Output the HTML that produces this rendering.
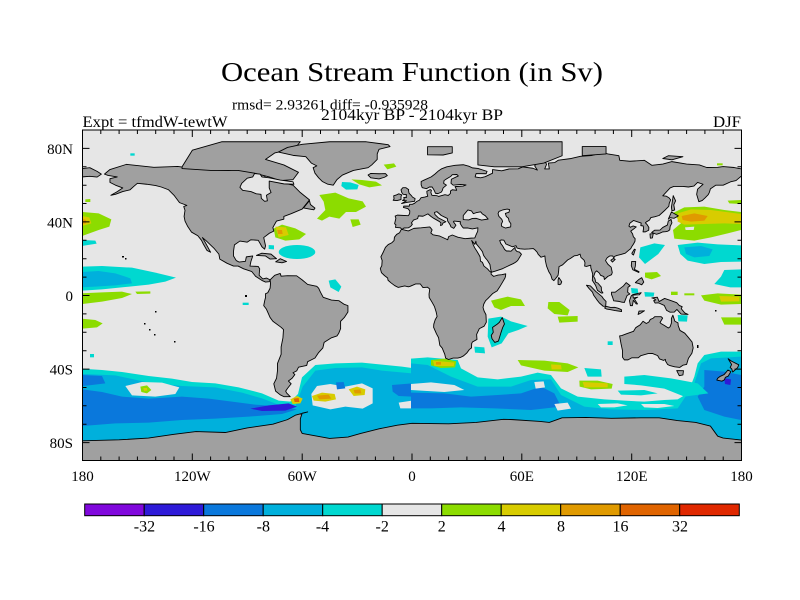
<!DOCTYPE html>
<html><head><meta charset="utf-8"><style>
html,body{margin:0;padding:0;background:#fff;}
svg{display:block;}
.l polygon{vector-effect:non-scaling-stroke;}
text{font-family:"Liberation Serif",serif;fill:#000;}
</style></head><body>
<svg width="800" height="600" viewBox="0 0 800 600" xmlns="http://www.w3.org/2000/svg">
<rect width="800" height="600" fill="#fff"/>
<defs><clipPath id="mc"><rect x="82.5" y="130" width="659" height="331"/></clipPath></defs>
<g clip-path="url(#mc)">
<rect x="82" y="129" width="661" height="333" fill="#e6e6e6"/>
<!-- LEFT HALF PATCHES -->
<g transform="translate(82 130) scale(0.33333)">
<polygon fill="#00d8d0" points="0,716 60,720 120,726 200,738 270,746 330,756 400,760 470,772 540,790 590,812 625,815 648,792 660,742 700,705 760,700 840,698 900,704 960,710 990,714 990,993 0,993"/>
<polygon fill="#00b0dc" points="0,732 100,736 200,758 300,768 400,772 480,788 540,805 600,828 640,830 662,770 700,722 760,714 840,712 900,722 990,730 990,993 0,993"/>
<polygon fill="#0a78dc" points="0,735 60,738 70,760 30,765 0,768"/>
<polygon fill="#e6e6e6" points="130,768 180,756 240,758 292,772 280,792 220,800 150,796"/>
<polygon fill="#8cdc00" points="175,770 195,766 208,780 195,790 178,786"/>
<polygon fill="#d8cc00" points="184,774 195,774 196,782 186,783"/>
<polygon fill="#0a78dc" points="0,778 60,786 120,800 200,806 300,800 380,806 450,815 520,824 600,830 645,838 600,852 500,860 400,866 300,870 200,878 100,880 0,888"/>
<polygon fill="#2e1ad8" points="505,836 560,826 620,820 645,830 610,842 540,843"/>
<polygon fill="#e6e6e6" points="688,792 705,768 745,762 790,770 840,760 872,775 872,820 842,836 790,830 745,838 692,826"/>
<polygon fill="#d8cc00" points="625,808 645,798 662,806 655,820 632,822"/>
<polygon fill="#e06400" points="635,806 650,804 652,816 638,816"/>
<polygon fill="#d8cc00" points="690,798 720,788 758,792 762,808 730,815 695,812"/>
<polygon fill="#e09a00" points="705,797 740,794 748,806 712,808"/>
<polygon fill="#d8cc00" points="800,778 825,770 850,778 848,795 815,798"/>
<polygon fill="#e09a00" points="815,780 835,778 838,790 818,790"/>
<polygon fill="#0a78dc" points="762,757 785,756 790,775 765,778"/>
<polygon fill="#0a78dc" points="930,765 990,760 990,800 950,798 932,785"/>
<polygon fill="#e6e6e6" points="950,818 990,812 990,835 955,835"/>
<polygon fill="#00d8d0" points="0,410 60,408 150,413 220,428 282,443 250,455 200,464 130,471 60,478 0,482"/>
<polygon fill="#00b0dc" points="0,426 50,423 100,430 145,445 150,460 100,466 40,470 0,472"/>
<polygon fill="#8cdc00" points="0,490 60,487 120,485 150,492 120,504 60,515 0,522"/>
<polygon fill="#8cdc00" points="160,485 205,484 205,491 165,492"/>
<polygon fill="#8cdc00" points="0,566 40,570 62,580 45,592 0,596"/>
<polygon fill="#00d8d0" points="0,330 40,332 44,341 0,348"/>
<polygon fill="#00d8d0" points="24,672 36,672 36,682 24,682"/>
<polygon fill="#00d8d0" points="482,518 500,518 500,525 482,525"/>
<polygon fill="#8cdc00" points="0,246 50,250 88,268 82,290 50,300 0,318"/>
<polygon fill="#d8cc00" points="0,258 22,262 28,280 0,288"/>
<polygon fill="#e09a00" points="0,266 12,270 12,280 0,282"/>
<polygon fill="#8cdc00" points="10,208 25,207 25,216 10,216"/>
<polygon fill="#8cdc00" points="712,195 760,188 800,205 842,214 852,230 822,246 792,246 772,266 742,260 720,272 705,266 730,240 725,215"/>
<polygon fill="#8cdc00" points="805,268 830,268 836,284 812,291"/>
<polygon fill="#8cdc00" points="575,296 600,284 640,295 672,312 652,328 610,332 580,322"/>
<polygon fill="#d8cc00" points="580,290 612,292 620,315 590,322"/>
<polygon fill="#e09a00" points="586,300 600,300 602,312 588,312"/>
<ellipse fill="#00d8d0" cx="645" cy="366" rx="55" ry="21"/>
<polygon fill="#00d8d0" points="560,345 576,346 576,358 560,357"/>
<polygon fill="#00d8d0" points="780,156 805,157 830,165 826,178 792,179 778,168"/>
<polygon fill="#8cdc00" points="808,148 840,150 882,155 900,166 862,172 832,163"/>
<polygon fill="#8cdc00" points="905,104 936,100 943,110 916,118"/>
<polygon fill="#00d8d0" points="740,452 760,448 778,470 770,486 745,472"/>
<polygon fill="#00d8d0" points="145,70 158,70 158,77 145,77"/>
</g>
<!-- RIGHT HALF PATCHES -->
<g transform="translate(411 130) scale(0.33333)">
<polygon fill="#00d8d0" points="0,686 50,682 140,690 150,715 200,742 260,748 330,740 380,728 420,735 450,775 500,800 580,808 640,812 700,815 760,810 800,808 830,790 850,740 860,700 880,675 930,665 990,665 990,993 0,993"/>
<polygon fill="#00b0dc" points="0,700 50,705 120,740 200,770 300,770 360,750 420,748 450,795 520,830 600,838 700,840 800,835 850,760 870,700 900,685 990,680 990,993 0,993"/>
<polygon fill="#0a78dc" points="0,788 100,790 180,800 260,795 330,790 390,770 430,790 450,830 360,840 250,835 150,832 60,835 0,835"/>
<polygon fill="#0a78dc" points="880,720 940,725 990,735 990,870 940,860 880,840 860,800 880,770"/>
<polygon fill="#e6e6e6" points="0,762 60,757 130,765 160,780 100,786 30,782 0,780"/>
<polygon fill="#e6e6e6" points="370,756 398,754 402,772 374,776"/>
<polygon fill="#e6e6e6" points="430,822 470,818 480,836 440,842"/>
<polygon fill="#e6e6e6" points="560,822 620,820 650,826 610,832 570,832"/>
<polygon fill="#e6e6e6" points="690,822 760,822 790,828 740,834 700,832"/>
<polygon fill="#2e1ad8" points="940,745 960,748 958,765 942,762"/>
<polygon fill="#8cdc00" points="780,252 820,232 880,230 940,240 990,246 990,300 950,310 900,322 850,332 790,326 786,300 812,278 796,262"/>
<polygon fill="#d8cc00" points="800,250 840,238 900,240 960,248 990,252 990,282 940,280 880,282 820,284 800,275"/>
<polygon fill="#e09a00" points="812,258 850,250 890,258 880,272 840,275 815,270"/>
<polygon fill="#e6e6e6" points="822,292 850,290 848,300 824,300"/>
<polygon fill="#8cdc00" points="950,212 990,210 990,222 955,220"/>
<polygon fill="#8cdc00" points="918,100 935,100 935,106 918,106"/>
<polygon fill="#00d8d0" points="800,345 860,338 920,343 990,346 990,395 930,396 880,402 830,392 808,372"/>
<polygon fill="#00b0dc" points="820,352 870,348 905,358 895,378 850,382 825,372"/>
<polygon fill="#00d8d0" points="688,352 730,340 762,345 742,372 702,402 684,382"/>
<polygon fill="#00d8d0" points="940,420 990,418 990,472 958,472 910,462 930,440"/>
<polygon fill="#8cdc00" points="702,428 738,426 750,438 722,448 702,442"/>
<polygon fill="#8cdc00" points="870,496 920,490 990,494 990,522 930,524 880,512"/>
<polygon fill="#d8cc00" points="925,498 985,500 985,514 930,515"/>
<polygon fill="#8cdc00" points="930,562 990,562 990,584 940,584"/>
<polygon fill="#00d8d0" points="660,474 680,476 682,490 662,490"/>
<polygon fill="#00d8d0" points="700,486 730,488 728,500 702,500"/>
<polygon fill="#8cdc00" points="780,485 800,485 800,495 780,495"/>
<polygon fill="#8cdc00" points="820,490 850,490 850,496 820,496"/>
<polygon fill="#00d8d0" points="800,555 830,556 828,575 802,574"/>
<polygon fill="#8cdc00" points="240,512 290,500 330,508 342,528 300,528 270,540 250,532"/>
<polygon fill="#8cdc00" points="412,516 445,516 476,540 470,556 430,552 410,535"/>
<polygon fill="#8cdc00" points="440,560 500,558 500,575 445,578"/>
<polygon fill="#00d8d0" points="232,566 270,560 300,574 350,588 322,600 292,610 272,640 242,652 230,620"/>
<polygon fill="#00d8d0" points="190,650 220,652 222,670 192,668"/>
<polygon fill="#00d8d0" points="590,634 605,634 605,645 590,645"/>
<polygon fill="#8cdc00" points="60,690 100,686 136,694 132,712 90,714 60,706"/>
<polygon fill="#d8cc00" points="66,692 130,698 128,708 70,708"/>
<polygon fill="#e09a00" points="75,696 90,696 90,704 75,704"/>
<polygon fill="#8cdc00" points="320,690 400,692 470,700 502,712 470,726 400,722 330,706"/>
<polygon fill="#d8cc00" points="420,703 450,705 452,718 422,718"/>
<polygon fill="#8cdc00" points="505,752 560,752 605,762 602,776 540,778 506,770"/>
<polygon fill="#d8cc00" points="515,756 590,760 590,772 520,772"/>
<polygon fill="#00d8d0" points="520,714 570,718 572,740 530,740"/>
<polygon fill="#00d8d0" points="640,740 700,735 780,745 860,760 892,790 820,800 760,776 690,766 640,762"/>
<polygon fill="#00d8d0" points="620,782 700,780 740,790 690,796 630,794"/>
</g>
<!-- LAND (lon/lat coordinates) -->
<g class="l" transform="translate(412 295.5) scale(1.8306 -1.839)" fill="#a0a0a0" stroke="#000" stroke-width="0.9" stroke-linejoin="round">
<polygon points="-168,66 -165,68.5 -156,71.3 -141,69.7 -128,70.2 -115,68.5 -100,68 -90,69.5 -82,68 -80,64 -75,62.5 -65,60 -61,56 -56,52 -60,47 -66,44.5 -70,43 -70,41.5 -74,40.5 -76,37 -75.5,35 -78,33.8 -81,31.5 -80,27 -80.5,25.2 -82,26.5 -82.8,28 -84,30 -88,30.3 -90,29 -94,29.6 -97,27.5 -97.5,24 -97.5,21.5 -96,19 -94.5,18.2 -91,18.6 -90.5,21 -87,21.5 -88,18.5 -88.5,16 -84,15.8 -83.2,14.5 -83.5,11 -81.5,9 -79.5,9.5 -77.5,8.5 -78,7.5 -80,7.3 -82,8.2 -85.5,10.5 -87.5,13 -92,14.5 -95,16 -97.5,16 -101,17.5 -105,19.8 -105.5,22.5 -108,25.5 -112.5,29.8 -114.5,31.5 -113,29 -110,23.5 -112,24.5 -114,28 -115,30 -117,32.5 -120.5,34.5 -122.5,37.5 -124,40.5 -124.5,43 -124,46.3 -124.7,48.4 -123,49 -127,50.5 -130,54.5 -133,57.5 -137,59 -140,59.8 -145,60.5 -150,61 -152,59.3 -154,57.5 -158,56.5 -162,55 -164.5,54.5 -161,56.5 -158,58.5 -162,60 -165,61.5 -165,63.5 -161,64.5 -166,65.3"/>
<polygon points="-125.6,70 -120,79 -104,83.6 -61,83.6 -64,80 -75,77.5 -80,74 -70,71 -62,67 -65,63 -72,62.5 -78,64.5 -86,66.5 -95,68 -110,68 -125.6,69"/>
<polygon fill="#e6e6e6" points="-94,58.8 -93,61 -90,63.8 -87,64.5 -86,66.3 -83,66 -82,64.5 -78,64 -72,62.8 -65,61.8 -64.5,60.5 -70,60.7 -78,62.2 -78,58.5 -77,56 -79.5,54.5 -79,51.5 -80.5,51.2 -82.3,52.8 -82.5,55 -85,55.3 -88,56.5 -92.5,57.2"/>
<polygon points="-73,78 -68,80.5 -60,82.2 -45,83.6 -25,83.6 -13,82 -12,81 -18,79.5 -19,77 -19,74 -22,71 -24,69.5 -32,68 -38,65.5 -41,63 -43,60 -46,60.5 -49,62 -51,64 -53,66.5 -54,69.5 -52,70.5 -55,72 -58,75.5 -65,76.2"/>
<polygon points="-59.3,47.6 -56,51.6 -55.5,49.5 -53,47.5 -53.6,46.6 -56,47"/>
<polygon points="-85,21.8 -82,23 -77,22.5 -74,20 -77.5,19.8 -80,21.5"/>
<polygon points="-74.5,18.3 -72,20 -68.5,18.5 -71,17.8"/>
<polygon points="-180,64.5 -180,69 -176,69.5 -172,67.5 -169.7,66 -172,64.4 -176,64.8"/>
<polygon points="-77.5,8.5 -75,11 -72,12 -71.5,10.5 -68,10.8 -63,10.7 -60,8.5 -57,6 -52,5 -51,4 -50,1.8 -48.5,-1 -44,-2.5 -40,-2.8 -37,-4.8 -35,-5.5 -35,-9 -37,-12 -39,-14 -39,-18 -40,-20.5 -41,-22 -44,-23 -48,-25.5 -48.7,-28.5 -51,-31 -53,-34 -55,-35 -57,-36 -57.5,-38 -62,-39 -63,-41 -65,-42 -64,-43 -65.5,-45 -67.5,-46.5 -66,-48 -68,-50.5 -69,-52 -68.5,-53 -66.5,-55 -70,-55 -72,-54 -74.5,-52 -75.5,-48 -74,-45 -73.5,-41 -73.5,-37 -71.5,-32 -71.5,-28 -70.5,-23 -70.2,-18.5 -71.5,-17.3 -76,-14 -77.5,-12 -79.5,-7.5 -81,-5.5 -80.5,-3 -80,-1 -80,1 -78.8,1.5 -77.5,4 -77.3,6.5"/>
<polygon points="-5.6,36 -6.3,36.8 -9,37 -8.8,38.5 -9.5,39 -8.8,42 -9.2,43.2 -8,43.7 -2,43.4 -1.3,44.5 -1.2,46 -2.2,47.2 -4.7,47.9 -4.5,48.6 -1.5,48.6 -1.3,49.6 0.2,49.6 1.5,50.2 2.5,51.1 4,51.8 5,53.2 7,53.5 8.6,54 8.2,55.5 8.1,56.7 10,57.6 10.6,57.2 10.3,56 10.9,54.5 13.5,54.3 14.5,53.9 18,54.8 19.8,54.4 21,55.5 21,56.8 22,57.5 24.4,57.2 24,58.3 23.5,59.2 28,59.5 29.5,60.1 26.5,60.4 22.5,60 21.3,61 21.5,63.2 25.3,65 24.5,65.8 22,65.7 21.2,64.8 19,63.5 17.5,62.5 17.3,61 18.8,60 17,58.5 16.5,57 16,56.2 14.2,55.4 12.8,55.6 12.4,56.6 11.9,57.6 11,59 9.5,59 8,58.1 5.6,58.6 5,60.2 5,62 6.5,62.7 10.5,64.5 12.5,66 14.5,67.8 16,68.8 19,70 23.5,70.8 28,71.1 31,70.3 33,69.4 36,69.1 41,67.5 40.5,66.2 35,66.3 34.5,64.5 37.5,64 40,64.6 44,66.5 44,68.5 46,68.2 49,67.8 53,68.8 58,68.9 60.5,69.9 66,69.2 68.5,68.2 67,70.5 68.5,72.5 72.8,72.7 73.5,71.3 72.5,68.8 75,68.8 74.5,72 78,72.3 80,73.6 87,74.5 92,75.7 98,76.1 104,77.7 107,77 113,76 113.5,73.5 119,73 127,73.5 131,70.8 137,71.5 142,72.8 150,71.5 157,71 161,69.6 167,69.7 170,70.1 176,69.6 180,68.8 180,65 177,62.5 174,61.8 170,60 166,60 163,58 162.5,56.2 161.8,54.8 160,53 158.5,51.6 156.7,51 155.5,55 156,57.8 159,60.5 156,61.5 154,59.5 151,59 148,59.3 143,59.3 141,58.5 137,54.2 139,54 140.5,53 141.3,52 140.5,50 140.3,48.5 138.3,46.5 135,43.5 132.5,42.8 130.5,42.4 129.7,41 128,40 127.5,39.5 128.4,38.6 129.4,37 129.3,35.5 127.5,34.6 126.2,34.6 126.5,36.5 126.3,37.8 125,38 125.2,39.4 124,39.8 121,40.8 119,39.3 118.5,37.7 119.3,37.1 120.7,37.8 122.5,37.3 121,36.1 119.5,35 120.5,33.5 120.9,32 121.9,30.9 121.8,29.5 121,28 120,26.5 119.5,25.5 118.5,24.7 116.5,23 114.2,22.3 112,21.8 110.5,21.2 110.3,20.3 109.6,21.5 108,21.5 106.6,20.5 105.7,19 107,17 108.8,15.4 109.4,12.5 109,11.3 107,10.4 105.1,8.7 104.8,10.3 103,11 102.3,12.2 100.9,13.4 100,12.6 99.2,10.3 99.9,9.2 100.4,7.2 101.5,6.8 103.4,4.6 103.5,2.6 104.3,1.4 103.5,1.3 101.3,2.8 100.3,5.5 98.5,8.2 98.6,10 98.7,11.7 97.7,15 97.6,16.5 95.3,15.8 94.3,16 94.5,17.8 94,19.2 92.3,20.7 91.8,22.5 90.3,21.8 88.7,21.6 86.5,20.1 85,19.3 82.3,16.7 80.3,15.7 80.1,13.2 79.8,11 79.3,10.3 78.2,8.9 77.5,8.1 76.5,8.9 75.8,11.2 74.7,13 73.5,16 72.8,19.2 72.6,21.5 70.5,20.8 69,22.3 68.3,23.6 67.2,24.8 66.3,25.5 64,25.3 61.5,25.2 59,25.4 57.4,25.8 56.8,27.1 54.8,26.5 52.5,27.5 51.3,28 50.2,30.1 48.8,30.2 47.9,29.9 48.5,28.3 49.5,27 50.6,25 51.6,24.2 52.6,24.2 54.1,24.1 55.6,25.5 56.3,26.2 56.4,24.9 57.4,23.9 58.7,23.6 59.8,22.4 58.8,20.8 57.7,19 56.5,18 55.2,17.3 52.2,15.9 49.5,14.6 45.6,13.3 43.5,12.7 43.2,13.3 42.8,15.3 42.6,16.8 41.2,19.1 40,20.5 39.1,21.8 38.5,23.8 37.4,25.3 35.1,28.1 34.9,29.5 34.3,27.8 32.6,29.9 33.5,27.5 34.2,26 35.5,24 36.5,22.3 37.2,21 37.4,18.7 38.5,18 39.3,16 41.2,14.5 42.3,13.3 43.3,12.5 43.2,11.6 44.6,10.4 47,11.1 49,11.3 51.2,11.8 51.1,10.5 50.8,9.5 49.5,7.3 48,4.8 46.5,2.5 44,1 41.5,-1.6 40.2,-2.8 39.2,-4.7 38.8,-6.5 39.4,-8.5 40.4,-10.4 40.6,-14.5 39.4,-16.7 36.8,-18 35.3,-21.2 35.5,-23.9 33,-25.3 32.6,-26.1 32.5,-28.5 31.3,-29.4 30,-31.2 28.2,-32.8 26.4,-33.7 25,-34 22.5,-34 20,-34.8 18.4,-34.1 17.9,-32 16.5,-28.6 15.2,-27.1 14.5,-22.9 13.4,-20.9 11.8,-17.3 11.9,-15.6 12.7,-13.1 13.7,-11.4 13.2,-9 12.3,-6.1 11.1,-3.9 9.4,-1.1 9.3,0.7 9.7,3.5 8.5,4.5 7,4.4 6,4.3 4.5,6.3 2,6.3 -1,5 -2,4.7 -4,5.2 -7.6,4.4 -9.5,5.4 -11.5,6.9 -13.1,8.3 -13.3,9.5 -15,10.8 -16.7,12.4 -17.3,14.7 -16.5,16.2 -16.3,19 -17,21 -15.5,24 -14.5,26.2 -13,27.7 -11,28.7 -9.8,29.9 -9.6,31.7 -8.4,33.2 -6.8,34.1 -6.1,35.5"/>
<polygon fill="#e6e6e6" points="-5.5,35.9 -2,35.1 1,36.5 5,36.8 9.7,37.3 10.3,36.6 11,35.7 10.3,34 11.5,33 15.2,32.3 19.5,30.3 20,32 22,32.9 25,31.7 29,30.9 32.3,31.2 34.3,31.3 35,33 35.9,35 36,36.8 33,36.2 30.6,36.7 28,36.7 27.2,37.7 26.3,39.2 26.5,40.1 23,40.5 22.6,40.1 24,38.2 22.8,36.5 21.3,37.3 20.8,38.5 19.5,40.5 19.3,41.9 16,43.5 13.6,45.6 12.3,45.2 12.5,44.1 14.3,42.3 16,41.4 18.5,40.1 16.9,39.4 16.5,38.4 15.6,38 15.8,39.5 15,40.2 12,41.9 10.5,42.9 8.7,44.4 6,43.1 3.5,43.3 3.2,42.3 3.1,41.8 0.8,41 -0.3,39.5 0.2,38.7 -0.7,37.6 -2,36.8 -4.4,36.7"/>
<polygon fill="#e6e6e6" points="28,41.3 28,43.5 29.5,45.3 30.5,46.5 32.5,46 33.5,44.5 35,45 37.5,45.5 38.5,44.3 40,43.4 41.6,41.6 38,41 35,42 33,41.9 31,41.1 29,41.2"/>
<polygon fill="#e6e6e6" points="47,44.5 47.5,45.7 49.5,46.5 52,47 53.3,46.7 53,45.3 51,44.6 51.5,43 52.7,42 53,40.5 54,39 53.9,37.3 51,36.7 49,37.6 48.8,38.8 49.5,40.3 49,41.5 47.5,43"/>
<polygon points="36,71 36,83.6 82,83.6 82,76 72,72 60,70 45,70"/>
<polygon points="8.5,76.5 8.5,80.9 22,80.9 22,77.5 17,76.4"/>
<polygon points="93,76 93,81 106,81 106,77"/>
<polygon points="137,74.5 140,76 148,75.5 142,73.8"/>
<polygon points="-22.5,64 -24,65.5 -22.5,66.4 -18,66.2 -14.5,66.3 -13.5,65.2 -15,64.3 -18,63.4 -21,63.8"/>
<polygon points="-5.7,50 -3,50.6 1.4,51.2 1.7,52.7 0.3,53.5 -0.5,54.5 -1.6,55.6 -2,57.6 -1.8,57.6 -3.3,58.6 -5,58.6 -6,57.5 -5.6,56 -4.8,55 -3,54.8 -3.2,54 -3,53.3 -4.5,53.3 -4.2,52.3 -5.2,51.7 -3,51.5"/>
<polygon points="-6,52.2 -6,53.9 -5.6,54.7 -7.2,55.3 -8.5,54.7 -10,54.2 -9.8,52.5 -10.3,51.8 -8.2,51.6"/>
<polygon points="130.9,34.3 132.5,35.5 135.5,35.6 137,37 139.5,38.3 140,40.5 141.5,41.4 142,39.5 141,37.5 140.8,35.7 139.8,35 138.5,34.7 137,34.6 135.2,33.8 133.5,33.3 132,33.9"/>
<polygon points="130,33.5 131.8,33.6 131.3,31.3 130.2,31.2"/>
<polygon points="140,41.5 141.7,45.4 145.5,43.3 143.2,42 141,42.3"/>
<polygon points="142,46 143.5,46.5 143,49.3 144,51.5 142.7,54.3 142.2,51 141.7,48"/>
<polygon points="120.1,23 121.5,25.2 122,25 121,22 120.3,22.5"/>
<polygon points="108.6,19.2 110,20.1 111,19.6 109.5,18.2"/>
<polygon points="79.8,6 79.8,8.5 80.2,9.8 81.8,7.5 81.3,6.2 80.5,5.9"/>
<polygon points="120,18.5 122.2,18.5 122,16 121.5,14.2 124,13 123.9,12.5 120.6,14 119.8,16.2"/>
<polygon points="122,7 123.8,8.6 125.5,9.7 126.6,7.3 125.5,5.8 124,6.5"/>
<polygon points="109,1.8 111,1.8 113,3.3 115.5,5.2 117,7 119.2,5.3 118,4.5 117.8,1.8 119,0.8 117.5,0 116.5,-2.5 116,-3.8 114.5,-3.6 113,-3.2 110.2,-2.9 109.6,-1 109,0.5"/>
<polygon points="95.3,5.6 97.5,5.2 100.4,2.2 103.7,-0.5 104.6,-1.8 106,-3.2 105.8,-5.8 104.5,-5.9 102.3,-4 100.9,-2.2 99.2,0.2 98.6,1.8 96.8,3.7"/>
<polygon points="105.2,-6.8 106,-5.9 108.5,-6.5 110.7,-6.4 112.5,-6.9 114.4,-7.7 114.5,-8.7 110.9,-8.2 108.5,-7.7 106.4,-7.4"/>
<polygon points="119.3,-5.5 120.4,-5.5 120.9,-2.6 122.5,-4.6 123.2,-4.6 121.5,-1.9 123.3,-0.9 120.9,-1.4 120.6,0.5 124.6,1.4 125.2,1.5 124.2,0.4 120.2,0.2 119.8,-0.1 118.8,-2.8"/>
<polygon points="131,-1.3 134,-0.9 135,-3.3 138,-1.6 141,-2.6 144.6,-3.9 146,-5.4 147.6,-6.1 147.1,-7.2 149,-9.5 150.8,-10.3 147,-10.1 144.7,-7.6 143.3,-9 141,-9.1 139.1,-8.1 137.8,-5.4 134.7,-4 132.8,-4.1 132,-2.8 133.1,-2.4 131.9,-1.5"/>
<polygon points="124,-8.5 127,-8.3 125,-9.6 123.5,-10.3"/>
<polygon points="113.4,-22 114.2,-26.3 115,-30 115,-33.6 116,-35 118,-35 120,-33.9 123.6,-33.9 125,-32.7 129,-31.6 131.3,-31.5 134.2,-32.7 135.2,-34.5 137.5,-35.3 138.4,-34.7 138.5,-35.6 139.6,-37.5 140.6,-38 143.5,-38.8 146.3,-39.1 148,-37.9 150,-37.5 151,-34.2 152.9,-31.4 153.6,-28.5 153,-25.3 150.8,-22.6 149,-20.5 146.4,-19 145.4,-16.3 145.3,-14.9 143.6,-14 142.5,-10.7 141.7,-12.5 141.7,-15 141,-17 140,-17.7 137.9,-16.3 136,-15.2 135.5,-14.7 136.9,-12.3 136.1,-11.5 132.6,-11.5 131.8,-12.3 130.2,-13 129.4,-14.4 128,-15.2 126.2,-14 124.6,-16 122.2,-17.5 121,-19.5 117.5,-20.7 114.6,-21.8"/>
<polygon points="144.6,-40.8 148.3,-40.9 148,-43.2 146,-43.6"/>
<polygon points="172.7,-34.4 174.5,-35.7 178.5,-37.7 177.9,-39.2 176.8,-40.2 175.2,-41.6 174.6,-39.8 173.8,-39.2 174.6,-37.5"/>
<polygon points="172.6,-40.5 174.2,-41.4 173.2,-43 172.8,-43.8 171.2,-44.5 170.6,-45.9 169.3,-46.6 166.5,-46 167,-45 168.3,-44 170.5,-43 171.6,-41.7"/>
<polygon points="49.3,-12 50.5,-15.5 49.5,-17.5 48.5,-20.5 47.2,-24.8 45.2,-25.5 43.7,-23.5 43.3,-21.7 44.4,-20 44,-17.3 46.3,-15.8 47.7,-14.6"/>
<polygon points="-180,-91 -180,-79 -160,-78.5 -144,-77.5 -130,-75.5 -118,-74 -102,-74.5 -90,-72 -76,-70 -68,-67.5 -63.5,-65 -57,-63.3 -60,-64 -61,-67 -61,-73 -60,-75 -45,-77.7 -35,-77 -28,-75 -18,-72.5 -8,-70.5 0,-69.5 20,-69.8 35,-69 50,-67.3 55,-67.5 70,-68.5 75,-69 82,-66.5 95,-66.3 109,-66.8 125,-66.5 135,-66.5 145,-68 155,-69 163,-71 167,-76.5 170,-77.5 180,-78.6 180,-91"/>
</g>
<g fill="#000">
<rect x="122" y="256" width="2" height="1.5"/><rect x="125" y="258" width="1.5" height="1.5"/>
<rect x="245" y="295" width="2" height="2"/><rect x="155" y="311" width="1.5" height="1.5"/>
<rect x="144" y="323" width="1.5" height="1.5"/><rect x="149" y="329" width="1.5" height="1.5"/>
<rect x="154" y="334" width="1.5" height="1.5"/><rect x="174" y="341" width="1.5" height="1.5"/>
<rect x="697" y="345" width="1.5" height="3"/><rect x="715" y="310" width="1.5" height="1.5"/>
</g>
</g>
<rect x="82.5" y="130" width="659" height="330.5" fill="none" stroke="#000" stroke-width="1"/>
<path stroke="#000" stroke-width="1" fill="none" d="
M100.8,130v4M119.1,130v4M137.4,130v4M155.7,130v4M174,130v4M192.3,130v7M210.6,130v4M228.9,130v4M247.2,130v4M265.6,130v4M283.9,130v4M302.2,130v7M320.5,130v4M338.8,130v4M357.1,130v4M375.4,130v4M393.7,130v4M412,130v7M430.3,130v4M448.6,130v4M466.9,130v4M485.2,130v4M503.5,130v4M521.8,130v7M540.1,130v4M558.4,130v4M576.8,130v4M595.1,130v4M613.4,130v4M631.7,130v7M650,130v4M668.3,130v4M686.6,130v4M704.9,130v4M723.2,130v4
M100.8,460.5v-4M119.1,460.5v-4M137.4,460.5v-4M155.7,460.5v-4M174,460.5v-4M192.3,460.5v-7M210.6,460.5v-4M228.9,460.5v-4M247.2,460.5v-4M265.6,460.5v-4M283.9,460.5v-4M302.2,460.5v-7M320.5,460.5v-4M338.8,460.5v-4M357.1,460.5v-4M375.4,460.5v-4M393.7,460.5v-4M412,460.5v-7M430.3,460.5v-4M448.6,460.5v-4M466.9,460.5v-4M485.2,460.5v-4M503.5,460.5v-4M521.8,460.5v-7M540.1,460.5v-4M558.4,460.5v-4M576.8,460.5v-4M595.1,460.5v-4M613.4,460.5v-4M631.7,460.5v-7M650,460.5v-4M668.3,460.5v-4M686.6,460.5v-4M704.9,460.5v-4M723.2,460.5v-4
M82.5,148.4h7M82.5,166.8h4M82.5,185.2h4M82.5,203.5h4M82.5,221.9h7M82.5,240.3h4M82.5,258.7h4M82.5,277.1h4M82.5,295.5h7M82.5,313.9h4M82.5,332.3h4M82.5,350.7h4M82.5,369.1h7M82.5,387.5h4M82.5,405.8h4M82.5,424.2h4M82.5,442.6h7
M741.5,148.4h-7M741.5,166.8h-4M741.5,185.2h-4M741.5,203.5h-4M741.5,221.9h-7M741.5,240.3h-4M741.5,258.7h-4M741.5,277.1h-4M741.5,295.5h-7M741.5,313.9h-4M741.5,332.3h-4M741.5,350.7h-4M741.5,369.1h-7M741.5,387.5h-4M741.5,405.8h-4M741.5,424.2h-4M741.5,442.6h-7"/>
<g font-size="15" text-anchor="end">
<text x="73" y="154">80N</text>
<text x="73" y="227.5">40N</text>
<text x="73" y="301">0</text>
<text x="73" y="374.5">40S</text>
<text x="73" y="448">80S</text>
</g>
<g font-size="15" text-anchor="middle">
<text x="82.5" y="481">180</text>
<text x="192.3" y="481">120W</text>
<text x="302.2" y="481">60W</text>
<text x="412" y="481">0</text>
<text x="521.8" y="481">60E</text>
<text x="631.7" y="481">120E</text>
<text x="741.5" y="481">180</text>
</g>
<g stroke="#000" stroke-width="1">
<rect x="84.7" y="504" width="59.5" height="11.7" fill="#8008dc"/>
<rect x="144.2" y="504" width="59.5" height="11.7" fill="#2e1ad8"/>
<rect x="203.7" y="504" width="59.5" height="11.7" fill="#0a78dc"/>
<rect x="263.2" y="504" width="59.5" height="11.7" fill="#00b0dc"/>
<rect x="322.7" y="504" width="59.5" height="11.7" fill="#00d8d0"/>
<rect x="382.2" y="504" width="59.5" height="11.7" fill="#e6e6e6"/>
<rect x="441.7" y="504" width="59.5" height="11.7" fill="#8cdc00"/>
<rect x="501.2" y="504" width="59.5" height="11.7" fill="#d8cc00"/>
<rect x="560.7" y="504" width="59.5" height="11.7" fill="#e09a00"/>
<rect x="620.2" y="504" width="59.5" height="11.7" fill="#e06400"/>
<rect x="679.7" y="504" width="59.6" height="11.7" fill="#e02800"/>
</g>
<g font-size="16" text-anchor="middle">
<text x="144.4" y="531.5">-32</text>
<text x="204" y="531.5">-16</text>
<text x="263.3" y="531.5">-8</text>
<text x="322.5" y="531.5">-4</text>
<text x="382.2" y="531.5">-2</text>
<text x="441.7" y="531.5">2</text>
<text x="501.5" y="531.5">4</text>
<text x="561" y="531.5">8</text>
<text x="620.5" y="531.5">16</text>
<text x="680" y="531.5">32</text>
</g>
<text x="221" y="81" font-size="27" textLength="382" lengthAdjust="spacingAndGlyphs">Ocean Stream Function (in Sv)</text>
<text x="232" y="109.5" font-size="14.5" textLength="196" lengthAdjust="spacingAndGlyphs">rmsd= 2.93261 diff= -0.935928</text>
<text x="321" y="120" font-size="15.5" textLength="182" lengthAdjust="spacingAndGlyphs">2104kyr BP - 2104kyr BP</text>
<text x="82.5" y="127" font-size="16" textLength="145" lengthAdjust="spacingAndGlyphs">Expt = tfmdW-tewtW</text>
<text x="713" y="127" font-size="16" textLength="28" lengthAdjust="spacingAndGlyphs">DJF</text>
</svg>
</body></html>
